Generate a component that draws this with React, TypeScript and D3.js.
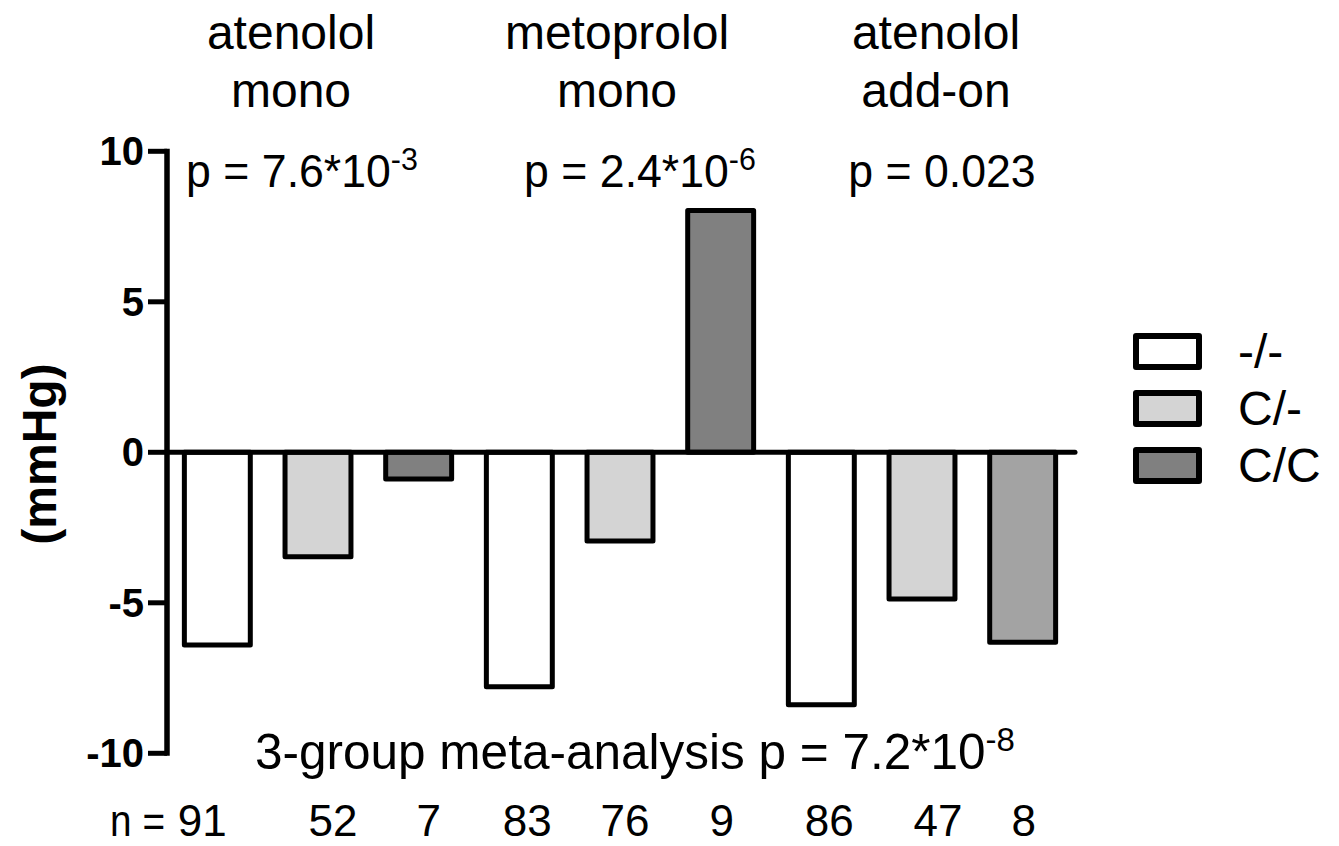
import React from 'react';
import * as d3 from 'd3';

// ---- data ----
const barKeys = ['ate-mono--/-', 'ate-mono-C/-', 'ate-mono-C/C', 'meto-mono--/-', 'meto-mono-C/-', 'meto-mono-C/C', 'ate-add--/-', 'ate-add-C/-', 'ate-add-C/C'];
const barValues = [-6.4, -3.47, -0.89, -7.79, -2.95, 8.03, -8.39, -4.87, -6.31];
const barFills = ['#ffffff', '#d4d4d4', '#808080', '#ffffff', '#d4d4d4', '#808080', '#ffffff', '#d4d4d4', '#a3a3a3'];
const nValues = ['91', '52', '7', '83', '76', '9', '86', '47', '8'];
const groupTitles = [['atenolol', 'mono'], ['metoprolol', 'mono'], ['atenolol', 'add-on']];
const groupPBase = ['p = 7.6*10', 'p = 2.4*10', 'p = 0.023'];
const groupPExp = ['-3', '-6', ''];
const legendLabels = ['-/-', 'C/-', 'C/C'];
const legendFills = ['#ffffff', '#d4d4d4', '#808080'];
const yTicks = [10, 5, 0, -5, -10];
const yLabel = '(mmHg)';
const metaBase = '3-group meta-analysis p = 7.2*10';
const metaExp = '-8';

export default function App() {
  const W = 1339, H = 846;
  const x = d3.scaleBand<string>().domain(barKeys).range([167, 1073]).paddingInner(0.345).paddingOuter(0.1725);
  const y = d3.scaleLinear().domain([-10, 10]).range([753.3, 151.3]);
  const font = 'Arial, "Liberation Sans", Helvetica, sans-serif';
  const cx = (i: number) => (x(barKeys[i]) as number) + x.bandwidth() / 2;
  const groupCenter = (g: number) => cx(g * 3 + 1);
  // layout nudges (label placement relative to the bars)
  const titleOffset = [-27, -3, 14];
  const pOffset = [-16, 20, 20];
  const nOffset = [-15, 15, 10, 8, 5, 1, 8, 16, 1];

  return (
    <svg width={W} height={H} style={{ position: 'absolute', left: 0, top: 0, background: '#fff' }} fontFamily={font}>
      <rect x={0} y={0} width={W} height={H} fill="#fff" />
      {/* group titles */}
      {groupTitles.map((t, g) => (
        <g key={'t' + g}>
          <text x={groupCenter(g) + titleOffset[g]} y={49} fontSize={48} textAnchor="middle">{t[0]}</text>
          <text x={groupCenter(g) + titleOffset[g]} y={107} fontSize={48} textAnchor="middle">{t[1]}</text>
          <g transform={`translate(${groupCenter(g) + pOffset[g]},187) scale(0.95,1)`}>
            <text x={0} y={0} fontSize={47} textAnchor="middle">
              {groupPBase[g]}
              {groupPExp[g] && <tspan fontSize={32} dy={-17}>{groupPExp[g]}</tspan>}
            </text>
          </g>
        </g>
      ))}
      {/* bars */}
      {barValues.map((v, i) => (
        <rect key={barKeys[i]}
          x={x(barKeys[i])}
          y={Math.min(y(v), y(0))}
          width={x.bandwidth()}
          height={Math.abs(y(v) - y(0))}
          fill={barFills[i]} stroke="#000" strokeWidth={5} strokeLinejoin="round" />
      ))}
      {/* zero line */}
      <line x1={167} x2={1075} y1={y(0)} y2={y(0)} stroke="#000" strokeWidth={5} strokeLinecap="round" />
      {/* y axis */}
      <line x1={167} x2={167} y1={y(10) - 2.5} y2={y(-10) + 2.5} stroke="#000" strokeWidth={5.5} />
      {yTicks.map(t => (
        <g key={'yt' + t}>
          <line x1={148} x2={167} y1={y(t)} y2={y(t)} stroke="#000" strokeWidth={5} />
          <text x={144} y={y(t) + 14} fontSize={40} fontWeight="bold" textAnchor="end">{t}</text>
        </g>
      ))}
      <text transform={`translate(56,454) rotate(-90)`} fontSize={48} fontWeight="bold" textAnchor="middle">{yLabel}</text>
      {/* meta text */}
      <text x={255} y={769} fontSize={49.5}>
        {metaBase}
        <tspan fontSize={33} dy={-18}>{metaExp}</tspan>
      </text>
      {/* n row */}
      <g transform="translate(165,836) scale(0.88,1)">
        <text x={0} y={0} fontSize={44} textAnchor="end">n =</text>
      </g>
      {nValues.map((n, i) => (
        <text key={'n' + i} x={cx(i) + nOffset[i]} y={836} fontSize={44} textAnchor="middle">{n}</text>
      ))}
      {/* legend */}
      {legendLabels.map((l, i) => (
        <g key={'lg' + i}>
          <rect x={1136} y={336 + i * 57} width={63} height={31} fill={legendFills[i]} stroke="#000" strokeWidth={6} strokeLinejoin="round" />
          <text x={1238} y={368 + i * 57} fontSize={48}>{l}</text>
        </g>
      ))}
    </svg>
  );
}
